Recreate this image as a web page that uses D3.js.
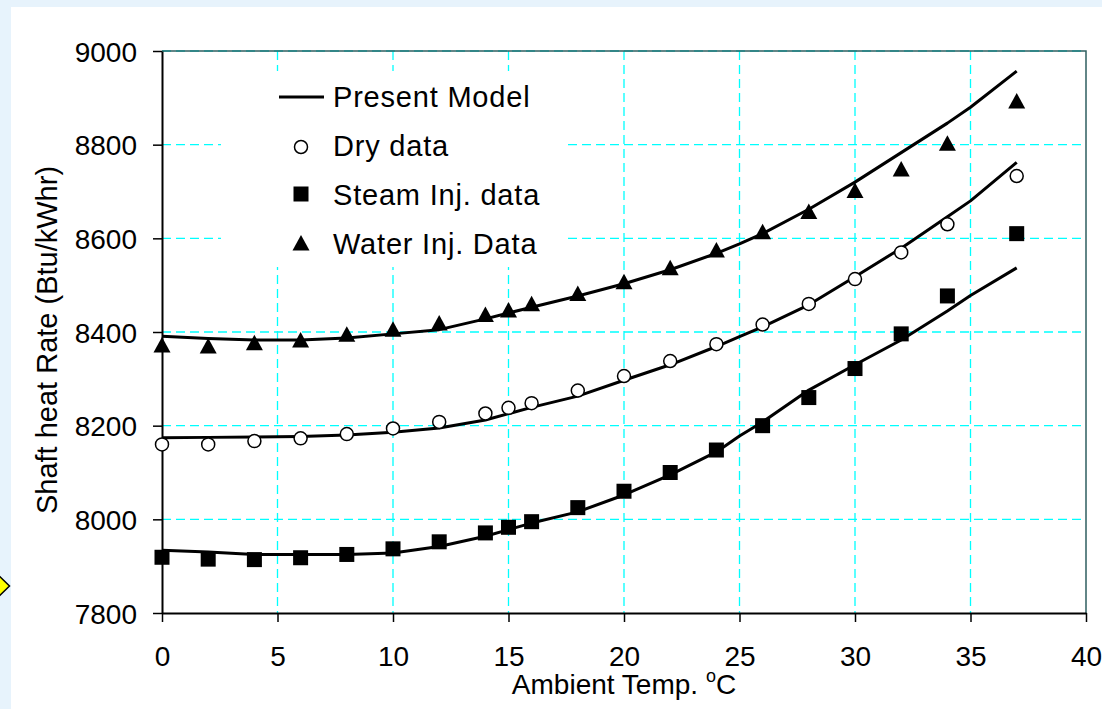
<!DOCTYPE html>
<html>
<head>
<meta charset="utf-8">
<script src="https://cdn.jsdelivr.net/npm/d3@7"></script>
<style>
  body { margin: 0; background: #e7f3fc; }
  svg text { font-family: "Liberation Sans", Arial, sans-serif; fill: #000; }
</style>
</head>
<body>
<div id="chart"></div>
<script>
//***************** data *******************/
var temps = [0, 2, 4, 6, 8, 10, 12, 14, 15, 16, 18, 20, 22, 24, 26, 28, 30, 32, 34, 37];
var dryData   = [8160, 8160, 8167, 8173, 8182, 8194, 8208, 8226, 8238, 8248, 8275, 8306, 8338, 8374, 8416, 8460, 8513, 8570, 8630, 8733];
var steamData = [7919, 7915, 7914, 7918, 7925, 7937, 7952, 7971, 7983, 7995, 8025, 8060, 8100, 8148, 8200, 8260, 8322, 8396, 8477, 8610];
var waterData = [8370, 8368, 8375, 8381, 8393, 8404, 8417, 8435, 8445, 8458, 8480, 8505, 8535, 8573, 8612, 8655, 8700, 8746, 8801, 8891];

var modelTemps = [0, 2, 4, 6, 8, 10, 12, 14, 16, 18, 20, 22, 24, 25, 26, 28, 30, 32, 34, 35, 37];
var dryModel   = [8174, 8175, 8176, 8177, 8180, 8186, 8195, 8212, 8239, 8263, 8297, 8330, 8369, 8390, 8411, 8458, 8518, 8579, 8646, 8680, 8762];
var steamModel = [7934, 7930, 7925, 7925, 7925, 7928, 7942, 7964, 7992, 8016, 8052, 8095, 8144, 8178, 8208, 8276, 8330, 8383, 8445, 8478, 8537];
var waterModel = [8391, 8386, 8383, 8383, 8387, 8396, 8405, 8428, 8453, 8477, 8503, 8533, 8568, 8588, 8610, 8662, 8720, 8783, 8846, 8880, 8957];

var xTicks = [0, 5, 10, 15, 20, 25, 30, 35, 40];
var yTicks = [7800, 8000, 8200, 8400, 8600, 8800, 9000];
var legendLabels = ["Present Model", "Dry data", "Steam Inj. data", "Water Inj. Data"];

//************* set dimensions ***************/
var W = 1102, H = 709;
var plot = {left: 162, right: 1086, top: 51, bottom: 613};

var svg = d3.select("#chart")
  .append("svg")
    .attr("width", W)
    .attr("height", H);

// page background + white panel
svg.append("rect").attr("width", W).attr("height", H).attr("fill", "#e7f3fc");
svg.append("rect").attr("x", 11).attr("y", 7).attr("width", W - 11).attr("height", H - 7).attr("fill", "#fff");

// yellow arrow peeking in at the left edge
svg.append("path")
  .attr("d", "M-6,571 L9.5,586 L-6,601 Z")
  .attr("fill", "#ffff00")
  .attr("stroke", "#000")
  .attr("stroke-width", 1.5);

//***************** scales *******************/
var x = d3.scaleLinear().domain([0, 40]).range([plot.left, plot.right]);
var y = d3.scaleLinear().domain([7800, 9000]).range([plot.bottom, plot.top]);

//***************** grid *******************/
var grid = svg.append("g")
  .attr("stroke", "#00ffff")
  .attr("stroke-width", 1.3)
  .attr("stroke-dasharray", "9,5");
grid.selectAll(".vg")
  .data(xTicks.slice(1, -1))
  .enter().append("line")
    .attr("x1", function(d) { return x(d); })
    .attr("x2", function(d) { return x(d); })
    .attr("y1", plot.top)
    .attr("y2", plot.bottom);
grid.selectAll(".hg")
  .data(yTicks.slice(1))
  .enter().append("line")
    .attr("x1", plot.left)
    .attr("x2", plot.right)
    .attr("y1", function(d) { return y(d); })
    .attr("y2", function(d) { return y(d); });

// frame top / right
svg.append("path")
  .attr("d", "M" + plot.left + "," + plot.top + "H" + plot.right + "V" + plot.bottom)
  .attr("fill", "none")
  .attr("stroke", "#2f5f60")
  .attr("stroke-width", 1.5);

//***************** axes *******************/
var xAxis = svg.append("g")
  .attr("transform", "translate(0," + plot.bottom + ")")
  .call(d3.axisBottom(x).tickValues(xTicks).tickFormat(d3.format("d"))
    .tickSize(9).tickPadding(24).tickSizeOuter(0));
var yAxis = svg.append("g")
  .attr("transform", "translate(" + plot.left + ",0)")
  .call(d3.axisLeft(y).tickValues(yTicks).tickFormat(d3.format("d"))
    .tickSize(9).tickPadding(16).tickSizeOuter(0));

[xAxis, yAxis].forEach(function(a) {
  a.attr("font-size", null).attr("font-family", null);
  a.select(".domain").attr("stroke", "#000").attr("stroke-width", 2);
  a.selectAll(".tick line").attr("stroke", "#000").attr("stroke-width", 1.5);
  a.selectAll(".tick text")
    .style("font-size", "28px")
    .attr("fill", "#000");
});
yAxis.selectAll(".tick text").attr("dy", "0.36em");

// axis titles
var xt = svg.append("text")
  .attr("x", 624)
  .attr("y", 694)
  .attr("text-anchor", "middle")
  .style("font-size", "28px");
xt.append("tspan").text("Ambient Temp. ");
xt.append("tspan").style("font-size", "18px").attr("dy", -12).text("o");
xt.append("tspan").attr("dy", 12).text("C");

svg.append("text")
  .attr("transform", "translate(57,340) rotate(-90)")
  .attr("text-anchor", "middle")
  .style("font-size", "29px")
  .text("Shaft heat Rate (Btu/kWhr)");

//***************** model lines *******************/
var line = d3.line()
  .x(function(d) { return x(d[0]); })
  .y(function(d) { return y(d[1]); });

[dryModel, steamModel, waterModel].forEach(function(m) {
  svg.append("path")
    .datum(modelTemps.map(function(t, i) { return [t, m[i]]; }))
    .attr("d", line)
    .attr("fill", "none")
    .attr("stroke", "#000")
    .attr("stroke-width", 3)
    .attr("stroke-linejoin", "round");
});

//***************** markers *******************/
function drawCircle(g, cx, cy) {
  g.append("circle").attr("cx", cx).attr("cy", cy).attr("r", 6.5)
    .attr("fill", "#fff").attr("stroke", "#000").attr("stroke-width", 1.5);
}
function drawSquare(g, cx, cy) {
  g.append("rect").attr("x", cx - 7.5).attr("y", cy - 7.5).attr("width", 15).attr("height", 15)
    .attr("fill", "#000");
}
function drawTriangle(g, cx, cy) {
  g.append("path")
    .attr("d", "M" + cx + "," + (cy - 9) + "L" + (cx + 8.5) + "," + (cy + 6.5) + "L" + (cx - 8.5) + "," + (cy + 6.5) + "Z")
    .attr("fill", "#000");
}

var marks = svg.append("g");
temps.forEach(function(t, i) {
  drawCircle(marks, x(t), y(dryData[i]));
  drawSquare(marks, x(t), y(steamData[i]));
  drawTriangle(marks, x(t), y(waterData[i]));
});

//***************** legend *******************/
var legend = svg.append("g");
legend.append("rect")
  .attr("x", 221).attr("y", 71).attr("width", 346).attr("height", 196)
  .attr("fill", "#fff");
legend.append("line")
  .attr("x1", 279).attr("x2", 324).attr("y1", 97).attr("y2", 97)
  .attr("stroke", "#000").attr("stroke-width", 3);
drawCircle(legend, 301, 147);
drawSquare(legend, 301, 194);
drawTriangle(legend, 301, 244);
legendLabels.forEach(function(l, i) {
  legend.append("text")
    .attr("x", 333)
    .attr("y", 107 + i * 49)
    .style("font-size", "29px")
    .style("letter-spacing", "0.8px")
    .text(l);
});
</script>
</body>
</html>
